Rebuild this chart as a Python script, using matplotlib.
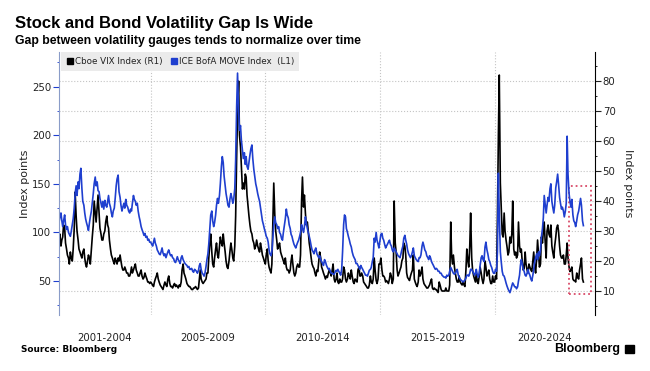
import pandas as pd
import matplotlib
matplotlib.use("Agg")
import matplotlib.pyplot as plt
import matplotlib.dates as mdates
from matplotlib.lines import Line2D
from matplotlib.patches import Rectangle
from matplotlib.ticker import MultipleLocator

# twice-monthly readings (1st / 15th), Jan 2001 - Nov 2023
vix = [
    27, 29, 25, 27, 28, 32, 31, 26, 24, 22, 21, 19, 23, 21, 20, 24, 31, 43, 35, 30, 27, 24, 23, 22,  # 2001
    21, 23, 24, 21, 19, 18, 20, 22, 21, 19, 24, 28, 32, 40, 36, 33, 38, 42, 36, 31, 29, 27, 27, 29,  # 2002
    30, 33, 35, 32, 31, 27, 24, 22, 21, 20, 19, 21, 20, 19, 21, 20, 22, 20, 18, 17, 17, 18, 17, 16,  # 2003
    16, 15, 15, 16, 18, 16, 17, 18, 19, 17, 16, 15, 15, 16, 17, 15, 14, 14.5, 16, 15, 14, 13, 13, 12.5,  # 2004
    13, 12.5, 12, 11.5, 13, 14, 15, 16, 14, 13, 12, 11.5, 11, 10.5, 12, 13, 12, 11.5, 14, 15, 12.5, 11.5, 11.5, 11,  # 2005
    12, 12.5, 11.5, 12, 11.5, 11, 12, 11.5, 13, 17, 19, 16, 15, 14, 12.5, 12, 11.5, 11.5, 11, 10.5, 10.5, 11, 11, 11.5,  # 2006
    11, 10.5, 11, 14, 17, 14, 13, 12.5, 13, 13.5, 14, 16, 16, 21, 26, 29, 23, 19, 18, 21, 24, 26, 22, 21,  # 2007
    25, 28, 26, 25, 29, 26, 23, 20, 18, 17.5, 20, 23, 26, 24, 21, 20, 25, 35, 55, 70, 80, 62, 58, 52,  # 2008
    44, 46, 44, 49, 48, 42, 38, 35, 32, 30, 29, 27, 26, 24, 25, 27, 25, 24, 23, 26, 24, 22, 21, 20,  # 2009
    19, 22, 24, 20, 18, 17, 16, 19, 33, 46, 35, 30, 27, 24, 25, 26, 23, 22, 21, 20, 19, 21, 18, 17,  # 2010
    17, 16, 17, 20, 22, 19, 16, 15, 16, 18, 19, 18, 18, 22, 40, 48, 38, 42, 36, 32, 33, 30, 26, 24,  # 2011
    21, 19, 18, 17.5, 16, 15, 17, 16.5, 20, 23, 21, 18, 17, 16, 15, 14, 15, 14.5, 16, 17, 16, 15, 17, 19,  # 2012
    14, 13, 14, 16, 13, 12.5, 14, 13, 13, 14, 18, 17, 14, 13, 14, 16, 15, 14, 17, 15, 13, 12.5, 14, 13.5,  # 2013
    13, 17, 18, 15, 15, 16, 15, 13, 12.5, 12, 11.5, 11, 11, 12, 15, 13, 12.5, 14, 21, 17, 13.5, 12.5, 14, 19,  # 2014
    19, 21, 17, 15, 15, 14.5, 13, 13.5, 13, 12.5, 14, 16, 15, 12.5, 14, 40, 26, 23, 17, 15, 16, 17, 18, 20,  # 2015
    21, 26, 25, 22, 16, 14.5, 14, 13.5, 15, 16, 17, 22, 14, 13, 12, 11.5, 13, 17, 15, 16, 18, 14, 12.5, 12,  # 2016
    11.5, 11, 11, 11.5, 12, 13, 14, 11, 10.5, 11, 10.5, 10.5, 10, 9.5, 13, 12, 10.5, 10, 10, 10, 10, 11, 10, 10,  # 2017
    10, 12, 33, 22, 19, 22, 18, 16, 14, 13, 13, 15, 13, 12.5, 12, 13, 12, 11.5, 17, 24, 20, 18, 25, 36,  # 2018
    21, 17, 15, 14, 13, 16, 13, 12.5, 15, 18, 16, 14, 12.5, 14, 20, 18, 15, 16, 17, 14, 12.5, 12.5, 15, 13,  # 2019
    13, 15, 14, 35, 62, 82, 46, 38, 29, 28, 36, 30, 27, 25, 22, 23, 28, 26, 29, 40, 24, 22, 23, 21,  # 2020
    22, 33, 25, 23, 24, 20, 17, 17.5, 23, 19, 17, 16, 19, 18, 17, 16.5, 20, 23, 18, 16, 21, 27, 22, 18,  # 2021
    19, 28, 26, 30, 33, 27, 21, 30, 32, 29, 28, 32, 25, 23, 21, 25, 28, 31, 32, 30, 25, 22, 21, 21,  # 2022
    22, 19, 19, 22, 26, 21, 18, 16.5, 17, 18, 14, 13.5, 13.5, 13, 16, 14.5, 14, 17, 19, 21, 14, 13,  # 2023
]

move = [
    110, 116, 120, 112, 106, 112, 118, 108, 103, 106, 100, 98, 96, 101, 108, 114, 125, 140, 148, 138, 152, 145, 160, 166,  # 2001
    145, 132, 128, 120, 114, 110, 106, 102, 110, 116, 122, 130, 140, 150, 157, 148, 152, 143, 142, 135, 130, 126, 132, 124,  # 2002
    133, 128, 126, 132, 138, 130, 126, 120, 116, 122, 125, 135, 148, 155, 159, 142, 136, 128, 122, 126, 130, 125, 134, 128,  # 2003
    126, 122, 120, 124, 122, 130, 138, 134, 132, 128, 130, 122, 116, 112, 106, 103, 100, 97, 99, 95, 96, 92, 93, 90,  # 2004
    90, 88, 86, 90, 94, 89, 86, 82, 80, 78, 77, 80, 84, 79, 76, 78, 74, 77, 80, 82, 78, 76, 77, 74,  # 2005
    73, 70, 69, 72, 75, 72, 70, 68, 74, 76, 72, 70, 68, 67, 66, 64, 65, 62, 62, 63, 60, 59, 62, 61,  # 2006
    60, 58, 61, 66, 68, 62, 58, 57, 55, 58, 65, 72, 78, 88, 105, 118, 122, 112, 106, 110, 118, 128, 135, 130,  # 2007
    138, 150, 168, 178, 172, 158, 148, 140, 134, 128, 126, 134, 140, 136, 130, 134, 145, 175, 230, 264, 225, 205, 210, 195,  # 2008
    185, 176, 182, 170, 178, 168, 165, 172, 180, 186, 190, 176, 165, 158, 150, 146, 140, 136, 132, 126, 118, 112, 108, 104,  # 2009
    100, 96, 94, 90, 82, 78, 76, 80, 95, 108, 116, 110, 108, 104, 106, 100, 98, 94, 92, 100, 108, 114, 124, 118,  # 2010
    115, 108, 104, 98, 96, 92, 88, 86, 84, 87, 90, 92, 96, 100, 108, 104, 100, 106, 116, 110, 104, 100, 96, 92,  # 2011
    86, 82, 80, 78, 82, 84, 78, 76, 74, 76, 72, 70, 68, 66, 72, 70, 66, 64, 62, 63, 60, 58, 58, 57,  # 2012
    57, 59, 61, 60, 62, 60, 58, 56, 62, 80, 108, 118, 116, 104, 100, 96, 92, 88, 85, 80, 76, 74, 72, 68,  # 2013
    68, 66, 64, 62, 66, 64, 62, 60, 58, 56, 56, 55, 58, 61, 62, 64, 70, 74, 94, 90, 100, 92, 88, 84,  # 2014
    92, 98, 99, 94, 92, 88, 84, 86, 88, 90, 92, 88, 86, 82, 80, 84, 82, 80, 78, 76, 75, 74, 78, 82,  # 2015
    86, 94, 97, 92, 88, 82, 78, 76, 74, 76, 80, 84, 76, 74, 72, 71, 70, 74, 74, 77, 86, 90, 86, 82,  # 2016
    80, 76, 74, 72, 76, 74, 70, 68, 66, 64, 62, 63, 62, 60, 60, 58, 58, 56, 55, 54, 54, 53, 56, 55,  # 2017
    56, 60, 64, 62, 60, 58, 57, 58, 60, 62, 56, 54, 52, 51, 50, 49, 50, 51, 53, 56, 56, 55, 58, 62,  # 2018
    62, 60, 58, 56, 58, 62, 56, 54, 58, 66, 74, 76, 72, 70, 85, 90, 82, 78, 72, 70, 66, 64, 60, 58,  # 2019
    58, 62, 60, 80, 161, 120, 80, 70, 60, 56, 55, 52, 48, 45, 42, 40, 38, 41, 45, 48, 46, 44, 44, 42,  # 2020
    44, 50, 56, 66, 72, 68, 62, 60, 56, 55, 58, 62, 58, 56, 52, 50, 56, 62, 70, 74, 78, 72, 80, 76,  # 2021
    82, 95, 104, 115, 138, 130, 120, 128, 136, 132, 145, 150, 132, 126, 120, 128, 146, 152, 160, 150, 136, 130, 124, 126,  # 2022
    122, 116, 122, 130, 199, 160, 140, 132, 126, 134, 118, 112, 110, 106, 112, 118, 122, 128, 135, 128, 112, 107,  # 2023
]

dates = pd.date_range("2001-01-01", periods=len(vix), freq="SMS")

period_edges = ["2005-01-01", "2010-01-01", "2015-01-01", "2020-01-01"]
period_labels = ["2001-2004", "2005-2009", "2010-2014", "2015-2019", "2020-2024"]
label_pos = ["2003-01-01", "2007-07-02", "2012-07-02", "2017-07-02", "2022-03-10"]

box_start, box_end = "2023-03-25", "2024-03-10"
box_low, box_high = 9.0, 45.1

BLUE = "#1f3fcf"

fig = plt.figure(figsize=(6.5, 3.71), dpi=100)
ax = fig.add_axes([59 / 650, 1 - 315 / 371, (595 - 59) / 650, (315 - 52) / 371])
ax2 = ax.twinx()

# VIX on right axis (drawn first), MOVE on left axis on top
ax.plot(dates, vix, color="black", lw=1.2)
ax2.plot(dates, move, color=BLUE, lw=1.2)

ax.yaxis.tick_right()
ax2.yaxis.tick_left()
ax.set_xlim(pd.Timestamp("2001-01-01"), pd.Timestamp("2024-05-18"))
ax.set_ylim(2, 89.7)
ax2.set_ylim(15, 285.7)

ax.set_yticks(range(10, 90, 10))
ax.yaxis.set_minor_locator(MultipleLocator(5))
ax2.set_yticks(range(50, 300, 50))
ax2.yaxis.set_minor_locator(MultipleLocator(25))

ax.set_xticks(pd.to_datetime(period_edges))
ax.set_xticklabels([])
ax.set_xticks(pd.to_datetime(label_pos), minor=True)
ax.set_xticklabels(period_labels, minor=True)
ax.tick_params(axis="x", which="both", length=0)
ax.tick_params(axis="x", which="minor", labelsize=7.3, pad=13, colors="#222222")

ax.tick_params(axis="y", which="major", length=4, width=0.8, pad=1.5, labelsize=7.3, colors="#222222")
ax.tick_params(axis="y", which="minor", length=1.5, width=0.6)
ax2.tick_params(axis="y", which="major", length=4, width=0.8, pad=1.5, labelsize=7.3,
                color=BLUE, labelcolor="#222222")
ax2.tick_params(axis="y", which="minor", length=1.5, width=0.6, color=BLUE)

ax.grid(axis="y", which="major", color="#c4c4c4", linestyle=":", linewidth=0.8)
ax.grid(axis="x", which="major", color="#c4c4c4", linestyle=":", linewidth=0.8)
ax.set_axisbelow(True)

for a in (ax, ax2):
    a.spines["top"].set_visible(False)
    a.spines["bottom"].set_visible(False)
ax.spines["left"].set_visible(False)
ax2.spines["right"].set_visible(False)
ax.spines["right"].set_linewidth(0.8)
ax2.spines["left"].set_color("#8a9cc8")
ax2.spines["left"].set_linewidth(0.8)

x0 = mdates.date2num(pd.Timestamp(box_start))
x1 = mdates.date2num(pd.Timestamp(box_end))
ax.add_patch(Rectangle((x0, box_low), x1 - x0, box_high - box_low, fill=False,
                       edgecolor="#d94a68", linestyle=":", linewidth=1.3, zorder=5))

handles = [Line2D([], [], marker="s", linestyle="none", color="black", markersize=5),
           Line2D([], [], marker="s", linestyle="none", color=BLUE, markersize=5)]
leg = ax2.legend(handles, ["Cboe VIX Index (R1)", "ICE BofA MOVE Index  (L1)"],
                 loc="upper left", bbox_to_anchor=(0.003, 1.0), ncol=2, frameon=True,
                 fancybox=False, facecolor="#ebebeb", edgecolor="none", framealpha=1,
                 fontsize=6.3, handletextpad=0.1, handlelength=1.0, columnspacing=0.8,
                 borderpad=0.55, borderaxespad=0)
for t in leg.get_texts():
    t.set_color("#222222")

fig.text(15 / 650, 1 - 28.3 / 371, "Stock and Bond Volatility Gap Is Wide",
         family=["Liberation Sans", "DejaVu Sans"], weight="bold", fontsize=12, va="baseline")
fig.text(15 / 650, 1 - 44 / 371, "Gap between volatility gauges tends to normalize over time",
         family=["Liberation Sans", "DejaVu Sans"], weight="bold", fontsize=8.8, va="baseline")
fig.text(25 / 650, 1 - 183.5 / 371, "Index points", rotation=90, fontsize=8,
         ha="center", va="center", color="#222222")
fig.text(628 / 650, 1 - 183.5 / 371, "Index points", rotation=270, fontsize=8,
         ha="center", va="center", color="#222222")
fig.text(21 / 650, 1 - 350 / 371, "Source: Bloomberg", family=["DejaVu Sans"],
         weight="bold", fontsize=6.4, va="center")
fig.text(620 / 650, 1 - 349.3 / 371, "Bloomberg", family=["Liberation Sans", "DejaVu Sans"],
         weight="bold", fontsize=9, ha="right", va="center")
fig.add_artist(Rectangle((625 / 650, 1 - 353 / 371), 9 / 650, 8 / 371,
                         transform=fig.transFigure, color="black"))

fig.savefig("out.png", dpi=100)
